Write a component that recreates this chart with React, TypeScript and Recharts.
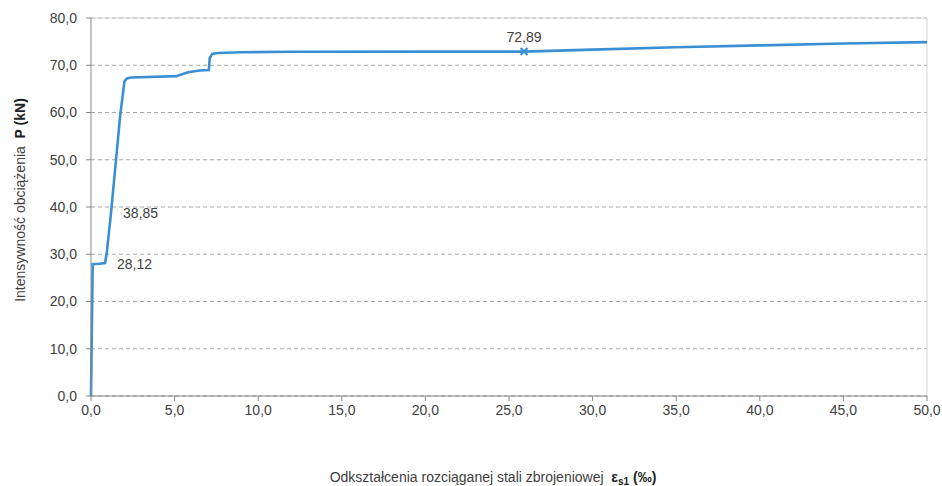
import { LineChart, Line, XAxis, YAxis, CartesianGrid, ReferenceLine, LabelList } from 'recharts'

// strain eps_s1 (‰) vs load P (kN)
const strain = [0, 0.1, 0.5, 0.84, 0.95, 1.2, 1.75, 2.0, 2.15, 2.4, 5.1, 5.8, 6.5, 7.05, 7.1, 7.25, 7.6, 9, 12, 20, 25.9, 30, 35, 40, 45, 50]
const load = [0, 27.9, 28.0, 28.12, 30.5, 38.85, 59.5, 66.6, 67.2, 67.4, 67.7, 68.5, 68.9, 69.0, 71.5, 72.4, 72.6, 72.75, 72.85, 72.88, 72.89, 73.3, 73.8, 74.2, 74.6, 74.9]
const labels = ['', '', '', '28,12', '', '38,85', '', '', '', '', '', '', '', '', '', '', '', '', '', '', '72,89', '', '', '', '', '']
const markedIndex = 20

const xTicks = [0, 5, 10, 15, 20, 25, 30, 35, 40, 45, 50]
const yTicks = [0, 10, 20, 30, 40, 50, 60, 70, 80]

const data = strain.map((e, i) => ({ e, p: load[i], label: labels[i] }))

const fmt = (v: number) => v.toFixed(1).replace('.', ',')
const FONT = '"Liberation Sans", Arial, sans-serif'
const BLUE = '#3a8fd4'

const PointLabel = (props: any) => {
    const { x, y, value } = props
    if (!value) return null
    if (value === '72,89') {
        return <text x={x} y={y - 10} textAnchor="middle" fontSize={14} fill="#404040" fontFamily={FONT}>{value}</text>
    }
    return <text x={x + 12} y={y + 6} textAnchor="start" fontSize={14} fill="#404040" fontFamily={FONT}>{value}</text>
}

const MarkerDot = (props: any) => {
    const { cx, cy, index } = props
    if (index !== markedIndex) return <g key={index} />
    return (
        <g key={index} stroke={BLUE} strokeWidth={2.2}>
            <line x1={cx - 3.5} y1={cy - 3.5} x2={cx + 3.5} y2={cy + 3.5} />
            <line x1={cx - 3.5} y1={cy + 3.5} x2={cx + 3.5} y2={cy - 3.5} />
        </g>
    )
}

export default function App() {
    return (
        <div style={{ position: 'absolute', left: 0, top: 0, width: 942, height: 486, background: '#fff', fontFamily: FONT }}>
            <LineChart width={942} height={486} data={data} margin={{ top: 18, right: 15, bottom: 60, left: 0 }}>
                <CartesianGrid vertical={false} stroke="#a8a8a8" strokeDasharray="4 3" />
                <XAxis
                    dataKey="e"
                    type="number"
                    domain={[0, 50]}
                    ticks={xTicks}
                    tickFormatter={fmt}
                    height={30}
                    tickSize={5}
                    tickMargin={4}
                    stroke="#868686"
                    tick={{ fill: '#404040', fontSize: 14, fontFamily: FONT }}
                    interval={0}
                />
                <YAxis
                    type="number"
                    domain={[0, 80]}
                    ticks={yTicks}
                    tickFormatter={fmt}
                    width={91}
                    tickSize={5}
                    tickMargin={9}
                    stroke="#868686"
                    tick={{ fill: '#404040', fontSize: 14, fontFamily: FONT }}
                    interval={0}
                />
                <ReferenceLine y={80} stroke="#d4d4d4" />
                <ReferenceLine x={50} stroke="#d4d4d4" />
                <Line
                    dataKey="p"
                    type="linear"
                    stroke={BLUE}
                    strokeWidth={2.6}
                    dot={MarkerDot}
                    activeDot={false}
                    isAnimationActive={false}
                >
                    <LabelList dataKey="label" content={PointLabel} />
                </Line>
            </LineChart>
            <div style={{
                position: 'absolute', left: 20, top: 200, transform: 'translate(-50%, -50%) rotate(-90deg)',
                whiteSpace: 'nowrap', fontSize: 14, color: '#404040'
            }}>
                Intensywność obciążenia&nbsp;&nbsp;<b style={{ color: '#202020' }}>P (kN)</b>
            </div>
            <div style={{
                position: 'absolute', left: 493, top: 478, transform: 'translate(-50%, -50%)',
                whiteSpace: 'nowrap', fontSize: 14, color: '#404040'
            }}>
                Odkształcenia rozciąganej stali zbrojeniowej&nbsp;&nbsp;<b style={{ color: '#202020' }}>ε<sub style={{ fontSize: 10 }}>s1</sub> (‰)</b>
            </div>
        </div>
    )
}
